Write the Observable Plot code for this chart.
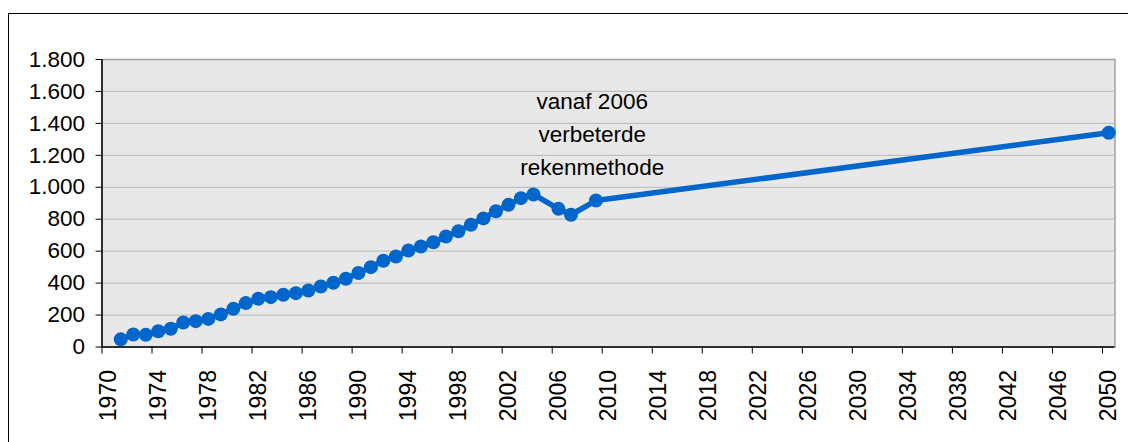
<!DOCTYPE html>
<html><head><meta charset="utf-8">
<script src="https://cdn.jsdelivr.net/npm/d3@7"></script>
<script src="https://cdn.jsdelivr.net/npm/@observablehq/plot@0.6"></script>
<style>
html,body{margin:0;padding:0;background:#fff;overflow:hidden;width:1128px;height:442px}
#frame{position:absolute;left:8px;top:13px;width:1200px;height:500px;border:1.5px solid #000;box-sizing:border-box}
#chart{position:absolute;left:0;top:0}
</style></head><body>
<div id="frame"></div><div id="chart"></div>
<script>
const years  = [1971,1972,1973,1974,1975,1976,1977,1978,1979,1980,1981,1982,1983,1984,1985,1986,1987,1988,1989,1990,1991,1992,1993,1994,1995,1996,1997,1998,1999,2000,2001,2002,2003,2004,2006,2007,2009,2050];
const values = [48,78,76,99,114,153,162,176,204,239,275,302,312,327,337,354,379,402,427,463,500,540,567,604,629,656,692,725,765,805,850,890,932,955,865,828,917,1341];
const yTicks = [0,200,400,600,800,1000,1200,1400,1600,1800];
const xTickLabels = [1970,1974,1978,1982,1986,1990,1994,1998,2002,2006,2010,2014,2018,2022,2026,2030,2034,2038,2042,2046,2050];
const annotationText = ["vanaf 2006\nverbeterde\nrekenmethode"];
const annotationX = [2008.7];
const annotationY = [1350];

const data = years.map((year, i) => ({year, value: values[i]}));
const annot = annotationText.map((t, i) => ({t, x: annotationX[i], y: annotationY[i]}));
const boundaries = xTickLabels.map(d => d - 0.5);
const fmt = n => n >= 1000 ? Math.floor(n / 1000) + "." + String(n % 1000).padStart(3, "0") : String(n);
const blue = "#0066cc";

const chart = Plot.plot({
  width: 1128, height: 442,
  marginLeft: 101.5, marginRight: 13.5, marginTop: 59, marginBottom: 95.5,
  style: {fontFamily: "'Liberation Sans', Arial, sans-serif", fontSize: "22px", color: "#000", background: "transparent", overflow: "visible"},
  x: {domain: [1969.5, 2050.5]},
  y: {domain: [0, 1800]},
  marks: [
    Plot.frame({fill: "#e8e8e8", stroke: "#a0a0a0", strokeWidth: 1.5}),
    Plot.gridY(yTicks.filter(d => d > 0 && d < 1800), {stroke: "#c0c0c0", strokeOpacity: 1, strokeWidth: 1.3}),
    Plot.axisY(yTicks, {tickSize: 6, tickPadding: 11, tickFormat: fmt, fontSize: 22.5, label: null}),
    Plot.axisX(boundaries, {tickSize: 7, fill: "none", label: null}),
    Plot.axisX(xTickLabels, {tickSize: 0, tickRotate: -90, tickPadding: 23, tickFormat: d => String(d), fontSize: 23, label: null}),
    Plot.ruleX([1969.5], {stroke: "#000", strokeWidth: 1.5}),
    Plot.ruleY([0], {stroke: "#000", strokeWidth: 1.5}),
    Plot.line(data, {x: "year", y: "value", stroke: blue, strokeWidth: 5.5}),
    Plot.dot(data, {x: "year", y: "value", r: 7, fill: blue}),
    Plot.text(annot, {x: "x", y: "y", text: "t", fontSize: 22.5, lineHeight: 1.47, fill: "#000"})
  ]
});
document.getElementById("chart").appendChild(chart);
</script>
</body></html>
